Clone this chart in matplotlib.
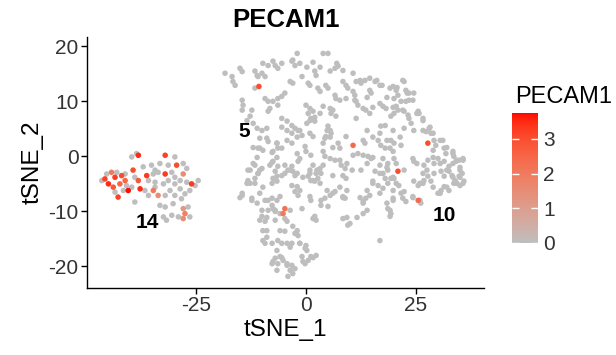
import numpy as np
import matplotlib
matplotlib.use("Agg")
import matplotlib.pyplot as plt
from matplotlib.colors import ListedColormap, Normalize

plt.rcParams['font.family'] = ['Liberation Sans', 'DejaVu Sans']
plt.rcParams['axes.unicode_minus'] = False

# ---------------- data (tSNE_1, tSNE_2) ----------------
# main cloud, PECAM1 = 0
main_zero = [
    (-18.4,15.1),(-16.8,14.5),(-16.6,13.6),(-16.1,12.9),(-15,16),(-14.5,15.4),
    (-11.6,15.5),(-11.1,14.7),(-10.9,14.5),(-10,15.1),(-9.3,14.5),(-11.6,12.4),
    (-9.8,16.9),(-8.6,16.5),(-7.5,17.3),(-7,16.5),(-6.4,16),(-5.5,16.9),
    (-3.2,17.3),(-2.5,16.5),(-3.6,13.6),(-3,13.3),(-0.9,14.5),
    (-4.8,11.5),(-5.5,10.9),(-6.4,10.5),(-9.3,10.5),(-8.6,10),(-7.5,10),(-6.4,9.3),
    (-14.5,10.2),(-14.3,9.3),(-14.5,8.4),(-12.3,8.4),(-12.7,7.3),(-13.4,6.5),
    (-8.2,8.7),(-8.6,8.2),(-5.5,6.9),(-4.3,6.4),(-3.2,5.6),(-2.5,5.1),
    (-11.1,5.1),(-10,4.7),(-8.9,5.1),(-8.9,3.3),(-8.6,2.7),(-10.9,1.5),(-9.8,1.1),
    (-6.6,2.4),(-6.4,1.5),(-7.5,0.9),(-4.3,2.9),(-3.2,2.4),(-1.8,4.7),(-0.9,3.8),
    (-2.0,0.5),(-1.4,-0.4),
    (-11.6,-1.6),(-10,-2.2),(-8.2,-1.6),(-7.5,-0.9),(-6.4,-1.8),(-4.8,-1.6),(-3.2,-1.8),(-1.8,-0.9),
    (-12,6),(-13.2,-2.5),(-12.7,-4.9),(-14.5,-6.7),(-12.3,-7.6),(-10.5,1.5),
    (2,15.5),(2.3,14.7),(5.5,15.5),(6.6,16),(7.3,16.4),(0.5,13.3),(0.9,12.9),
    (2.7,12.4),(3.2,11.8),(4.5,12.9),(5,12.4),(8.4,13.6),(9.1,12.9),(9.5,12.4),
    (11.4,13.6),(12.5,13.3),(13.4,13.8),(14.5,14.2),(15.7,13.6),(16.8,12.9),
    (14.5,12),(14.8,11.5),(10.7,11.8),(11.1,11.1),(6.6,11.1),(6.8,10.5),(7.7,10.2),(9.1,10.5),
    (11.1,10.2),(11.4,10),(0,9.3),(0.9,8.7),(1.6,8.2),(0.5,7.8),(1.1,6.9),(2,6.4),
    (3.9,9.1),(5.5,8.7),(6.1,8.4),(5.7,7.8),(6.8,7.3),(11.8,9.3),(13,8.7),(13.6,8.4),(14.5,7.8),
    (17.5,9.1),(18.2,8.7),(11.4,6.9),(17,5.5),(18,5.6),(5,5.5),(5.5,4.7),(5.7,4.2),(4.5,3.6),(4.3,3.3),
    (0.9,4.2),(1.6,3.6),(9.1,3.6),(13,2.9),(13.4,2.4),(7.3,2.4),(7.7,1.5),
    (-0.2,1.8),(0,0.9),(1.1,0.2),(3.9,0.9),(4.3,0),(5.5,-0.4),(6.6,-0.7),
    (10.7,0.2),(11.8,0.5),(13,0.2),(14.1,0),(14.8,-0.4),(16.4,2.9),(17,2),(18,1.5),(19.1,1.5),
    (17.5,-0.4),(16.8,-1.6),(18.6,-1.3),(1.6,-1.6),(3.2,-2.2),(3.9,-1.6),(8,-1.6),(8.9,-2.2),
    (22,13.8),(22.3,13.6),(19.8,12.7),(20.5,12),(20.9,11.1),(20,10.5),(22.7,12),(23.4,11.5),(24.5,11.5),
    (21.6,10),(22.7,10),(23.4,10.2),(20.5,9.1),(20.9,8.4),(25.5,8.2),(25.7,7.8),(20,7.8),(19.3,7.3),
    (22.3,8.2),(23.2,7.5),(23.4,6.9),(23.9,6),(26.6,6.9),(22.3,5.1),(24.5,4.7),
    (26.6,4.7),(27.3,4.5),(28,5.1),(28.4,4.2),(19.3,2.9),(20,2.4),(21.6,2),
    (29.1,2.9),(29.5,2),(31.1,2.9),(28.9,1.1),(31.4,1.5),(31.8,0.5),(33.4,0.9),(33.6,0),
    (19.8,0.9),(20,-0.4),(20.5,-1.3),(24.3,-0.4),(24.5,-0.9),(26.8,-1.6),(27.7,-0.7),(29.1,-1.3),(30,-0.4),
    (31.4,-0.9),(32.5,-1.8),(34.1,-0.9),(34.8,-0.7),(35.7,-0.4),
    (-10.5,-2.5),(-10.9,-3.1),(-7,-2.7),(-6.6,-3.6),(-5.5,-3.5),(-4.8,-3.1),(-4.1,-2.5),(-3,-2.7),(-2.5,-3.5),
    (-13.2,-4.4),(-13.4,-4.9),(-7.5,-4),(-6.6,-4.5),(-7.7,-4.9),
    (-3.2,-5.3),(-2,-5.5),(-1.4,-6.2),(-2.5,-6.4),(-1.8,-7.1),(-14.5,-7.1),(-12.3,-8),(-9.3,-8),
    (-7.7,-7.6),(-6.6,-8),(-5.9,-7.3),(-7.7,-8.9),(-7.5,-9.5),(-8.6,-9.8),(-7,-10),
    (-3.6,-9.8),(-0.9,-9.5),(-10,-10.9),(-10.5,-11.6),(-9.3,-11.8),(-7,-11.6),(-4.8,-11.3),(-4.3,-11.8),
    (-8.9,-13.5),(-5.9,-13.5),(-4.8,-13.6),(-3,-12.7),(-2,-13.5),(-2.5,-14),(-1.8,-14.4),
    (-9.8,-15.3),(-9.3,-15.8),(-6.4,-15.3),(-5.5,-15.8),(-4.3,-15.8),(-3.2,-15.8),
    (-7,-18.5),(-5.9,-18.2),(-5.2,-18.9),(-7.5,-19.1),(-6.4,-19.5),(-4.3,-19.8),(-3.2,-19.8),
    (-2.5,-20.4),(-3.6,-20.7),(-3,-21.3),(-4.1,-21.8),(-0.9,-18.2),(-0.7,-19.1),(-1.4,-15.8),
    (0.9,-2.5),(0.5,-3.6),(1.1,-4.4),(2,-4.5),(2.7,-4),(2.3,-3.1),(3.4,-3.1),
    (6.1,-3.5),(8.4,-3.5),(9.1,-4),(12.5,-2.5),(15.7,-2.7),(17.5,-3.1),(18.6,-2.5),
    (15.2,-4.5),(16.4,-5.3),(17.5,-5.8),(18.6,-4.9),(18,-4),(16.8,-6.7),(14.5,-7.1),(13.6,-7.6),(13,-8.2),(19.3,-4),
    (0.9,-7.3),(1.1,-8),(1.6,-11.3),(2,-10.9),(2.3,-11.6),
    (3.4,-8),(4.3,-7.6),(5.5,-7.1),(6.6,-6.4),(3.4,-8.9),(5,-9.1),(8.4,-7.3),(8.9,-7.6),
    (8.4,-11.3),(9.5,-12.5),(13,-10.4),(18.6,-9.5),(19.3,-10.4),(19.1,-10.9),(16.8,-15.3),
    (0,-16.2),(-0.2,-16.7),(1.1,-18.2),(2.3,-18),(0.5,-18.9),
    (22.3,-2.5),(20,-4),(20.5,-4.9),(21.1,-5.3),(19.8,-6.2),(21.6,-6.7),(22,-7.6),(22.7,-8.2),(19.8,-7.6),(22.3,-6.4),
    (24.5,-4.5),(25.5,-5.3),(26.6,-4.9),(26.8,-4.4),(27.7,-3.6),(28.4,-4.5),(26.6,-3.1),(29.1,-3.1),
    (30.7,-2.7),(31.4,-3.6),(32.5,-2.7),(33.2,-3.5),(33.9,-4.4),(34.8,-3.6),(35.5,-3.1),(35.9,-4.5),
    (35,-5.3),(33.6,-4.9),(31.4,-5.5),(30.7,-6.2),(30,-6.7),(32.5,-6.2),(26.1,-8.5),(24.3,-7.3),
    (-5.5,5.3),(-4.3,4.7),(-3.2,4.2),(-2,3.5),(-1.4,4.7),(0.2,6),(0.9,6.5),(2,7.1),(3.2,7.8),
    (-6.6,2.4),(-5.5,1.5),(-7.7,0.7),(-6.6,-0.2),(4.8,4.7),(5.5,3.5),(3.9,2.4),(6.1,1.6),
    (7.7,-0.7),(9.3,-1.3),(10.5,-2.5),(-3.6,-2.5),(-2,-3.1),(-0.7,-3.8),(0.9,-3.1),(2.5,-2.5),
    (1.6,-4.4),(3.2,-4.9),(4.8,-6.2),(6.1,-6.7),(8.4,-7.5),
    (13.9,4.7),(15.2,3.5),(16.8,4.2),(18.4,2.9),(19.8,4.7),(21.4,3.5),
    (13.9,10.7),(15.2,8.9),(16.8,9.6),(18.4,10.7),(19.8,8.9),(22,8.4),
    (13.9,-1.3),(15.2,-0.2),(16.8,-3.1),(18.4,-2),(19.8,-3.8),(15.2,-4.9),(13.9,-6.2),(12.3,-7.5),
    (25.2,-1.3),(27.5,-2.5),(28.9,-0.2),(30.5,-1.3),(32,-2.5),(33.4,-3.8),(35,-2.5),(33.4,-1.3),
    (25.9,-4.9),(28.9,-5.6),(30.5,-6.7),(32,-5.6),(24.3,-7.5),(25.9,-8),
    (18.4,-8.5),(19.1,-9.8),(19.8,-8),(13,-8.5),(13.9,-9.8),(11.6,-11.1),(9.3,-11.1),(10,-12.2),
    (7.7,-5.6),(9.3,-6.2),
    (-3,17.5),(-1.4,16.9),(0.2,16.2),(1.6,17.1),(3.2,16.2),(7,16.9),(8.4,15.6),(-2,18.7),(3.9,18.7),(5,18.7),
    (10.7,15.1),(12.3,13.8),(16.1,13.8),(17.3,12.9),(19.1,12.4),(20.7,12.5),(23,11.5),(24.3,10.2),
    (25.2,7.8),(26.6,6.5),(28.2,5.3),(28.9,4.2),(30.5,2.9),(32,1.6),(33.4,0.5),(34.3,-0.7),(35.7,-0.7),(35,-2),
    (35,-3.8),(34.3,-4.9),(35.7,-4.9),
    (-11.1,-0.2),(-12,-1.3),(-10.9,-3.1),(-11.6,-4.9),(-9.8,-5.6),(-10.5,-6.7),(-8.6,-8),(-11.1,-8.5),
    (-10,-9.8),(-8.9,-11.1),(-7,-9.8),(-5.9,-10.4),
    (-9.8,-13.5),(-8.9,-14.7),(-7.7,-15.8),(-6.6,-17.1),(-5.5,-18.4),(-4.3,-19.5),(-7.7,-19.5),
    (-6.6,-20.7),(-3.6,-16.5),(-1.4,-15.8),(0.2,-17.1),(1.6,-18.4),(-0.2,-19.5),
    (-15,-7.5),(-12.7,-2.5),(-11.6,-4),(-7.7,-1.1),(-12,1.6),(-10.5,3.3),
]

# main cloud, PECAM1 > 0
main_expr = [
    (-10.7,12.7,3.0),(10.7,2.0,2.4),(27.7,2.4,3.0),(-4.8,-9.5,2.2),
    (-5.2,-10.4,2.0),(20.9,-2.7,3.0),(25.5,-8.0,2.4),
]

# cluster 14 (tSNE_1, tSNE_2, PECAM1)
c14 = [
    (-38.1,0.2,3.5),(-32,0.2,3.2),(-29.4,-1.6,3.0),(-39.3,-2.5,3.0),(-36.2,-3.5,3.3),
    (-32,-3.2,3.3),(-45.7,-4.1,3.2),(-44.9,-5,3.5),(-43.4,-3.8,3.3),(-41.9,-3.5,3.0),
    (-42.3,-5,2.5),(-43.8,-5.6,2.8),(-40.4,-6.2,3.7),(-42.7,-7.4,3.2),(-37.7,-5.9,3.5),
    (-38.1,-4.4,2.8),(-34.7,-6.2,2.0),(-26,-5,3.3),(-27.9,-3.2,1.5),(-27.9,-9.5,1.2),
    (-27.5,-10.4,1.8),(-27.9,-11.3,1.5),(-33.6,-7.1,1.5),(-44.2,-2.9,2.0),(-41.1,-4.4,2.5),
    (-39.6,-0.1,0),(-38.5,0.5,0),(-29.8,-0.1,0),(-37,-1.9,0),(-35.1,-1.6,0),(-34.3,-2.5,0),
    (-33.2,-1.3,0),(-31.3,-1.6,0),(-30.5,-2.9,0),(-27.9,-1.3,0),(-27.1,-2.2,0),(-33.6,-2.9,0),
    (-35.8,-4.4,0),(-34.3,-4.7,0),(-32.4,-5,0),(-31.3,-4.4,0),(-29.8,-5,0),(-28.6,-4.4,0),
    (-27.1,-4.7,0),(-25.2,-5.3,0),(-24.5,-4.4,0),(-46.4,-4.4,0),(-45.3,-3.2,0),(-43,-2.9,0),
    (-41.1,-3.2,0),(-40.8,-5.3,0),(-43.4,-6.5,0),(-41.5,-6.2,0),(-38.9,-8.3,0),(-36.6,-6.2,0),
    (-35.8,-7.1,0),(-32,-7.1,0),(-30.9,-6.2,0),(-29.8,-7.1,0),(-28.3,-7.7,0),(-27.5,-6.8,0),
    (-26.4,-6.2,0),(-33.2,-8.9,0),(-32,-9.2,0),(-30.2,-8.6,0),(-29,-11,0),(-30.5,-10.7,0),
    (-32.4,-11,0),(-31.7,-11.6,0),(-26.4,-11,0),(-26.8,-9.2,0),(-38.9,-3.8,0),(-34.7,-3.2,0),
    (-29.8,-3.8,0),(-39.6,-5.6,0),(-34.3,-5.6,0),(-28.6,-5.9,0),
]

cluster_labels = ["5", "14", "10"]
label_pos = [(-14.0, 4.6), (-36.0, -12.0), (31.5, -10.8)]

# ---------------- build arrays ----------------
tsne_1 = np.array([p[0] for p in main_zero] + [p[0] for p in main_expr] + [p[0] for p in c14])
tsne_2 = np.array([p[1] for p in main_zero] + [p[1] for p in main_expr] + [p[1] for p in c14])
pecam1 = np.array([0.0] * len(main_zero) + [p[2] for p in main_expr] + [p[2] for p in c14])
order = np.argsort(pecam1, kind="stable")


# grey -> red gradient interpolated in CIE Lab (like ggplot's scale_colour_gradient)
def _srgb_to_lab(rgb):
    rgb = np.asarray(rgb, float)
    lin = np.where(rgb <= 0.04045, rgb / 12.92, ((rgb + 0.055) / 1.055) ** 2.4)
    M = np.array([[0.4124, 0.3576, 0.1805], [0.2126, 0.7152, 0.0722], [0.0193, 0.1192, 0.9505]])
    xyz = M @ lin / np.array([0.95047, 1.0, 1.08883])
    f = np.where(xyz > 0.008856, np.cbrt(xyz), 7.787 * xyz + 16 / 116)
    return np.array([116 * f[1] - 16, 500 * (f[0] - f[1]), 200 * (f[1] - f[2])])


def _lab_to_srgb(lab):
    L, a, b = lab
    fy = (L + 16) / 116
    fx = fy + a / 500
    fz = fy - b / 200
    f = np.array([fx, fy, fz])
    xyz = np.where(f ** 3 > 0.008856, f ** 3, (f - 16 / 116) / 7.787) * np.array([0.95047, 1.0, 1.08883])
    Minv = np.linalg.inv(np.array([[0.4124, 0.3576, 0.1805], [0.2126, 0.7152, 0.0722], [0.0193, 0.1192, 0.9505]]))
    lin = np.clip(Minv @ xyz, 0, 1)
    rgb = np.where(lin <= 0.0031308, 12.92 * lin, 1.055 * lin ** (1 / 2.4) - 0.055)
    return np.clip(rgb, 0, 1)


lab_lo = _srgb_to_lab([190 / 255, 190 / 255, 190 / 255])
lab_hi = _srgb_to_lab([1.0, 0.0, 0.0])
cmap = ListedColormap([_lab_to_srgb(lab_lo + t * (lab_hi - lab_lo)) for t in np.linspace(0, 1, 256)])
norm = Normalize(vmin=0, vmax=3.75)

fig = plt.figure(figsize=(6.16, 3.55), dpi=100)
ax = fig.add_axes([0.141, 0.189, 0.645, 0.707])
ax.scatter(tsne_1[order], tsne_2[order], c=pecam1[order], cmap=cmap, norm=norm,
           s=16, linewidths=0)

for lab, (lx, ly) in zip(cluster_labels, label_pos):
    ax.text(lx, ly, lab, fontsize=15, fontweight='bold', ha='center', va='center', color='black')

ax.set_xlim(-49.8, 40.5)
ax.set_ylim(-23.9, 21.7)
ax.set_xticks([-25, 0, 25])
ax.set_yticks([-20, -10, 0, 10, 20])
for s in ['top', 'right']:
    ax.spines[s].set_visible(False)
for s in ['left', 'bottom']:
    ax.spines[s].set_linewidth(1.0)
ax.tick_params(axis='both', labelsize=15, length=4, width=1.0, colors='black',
               labelcolor='#333333', pad=2)
ax.set_xlabel("tSNE_1", fontsize=17.5, labelpad=3)
ax.set_ylabel("tSNE_2", fontsize=17.5, labelpad=3)
ax.set_title("PECAM1", fontsize=18.5, fontweight='bold', pad=7)

# colour bar legend
cax = fig.add_axes([0.831, 0.316, 0.042, 0.366])
cb = fig.colorbar(plt.cm.ScalarMappable(norm=norm, cmap=cmap), cax=cax, ticks=[0, 1, 2, 3])
cb.outline.set_visible(False)
cax.yaxis.set_ticks_position('both')
cax.tick_params(axis='y', direction='in', color='white', length=5, width=1.0,
                labelsize=15, labelcolor='#333333', right=True, left=True, labelright=True, labelleft=False, pad=4)
fig.text(0.836, 0.696, "PECAM1", fontsize=17, ha='left', va='bottom')

fig.savefig("out.png", dpi=100)
